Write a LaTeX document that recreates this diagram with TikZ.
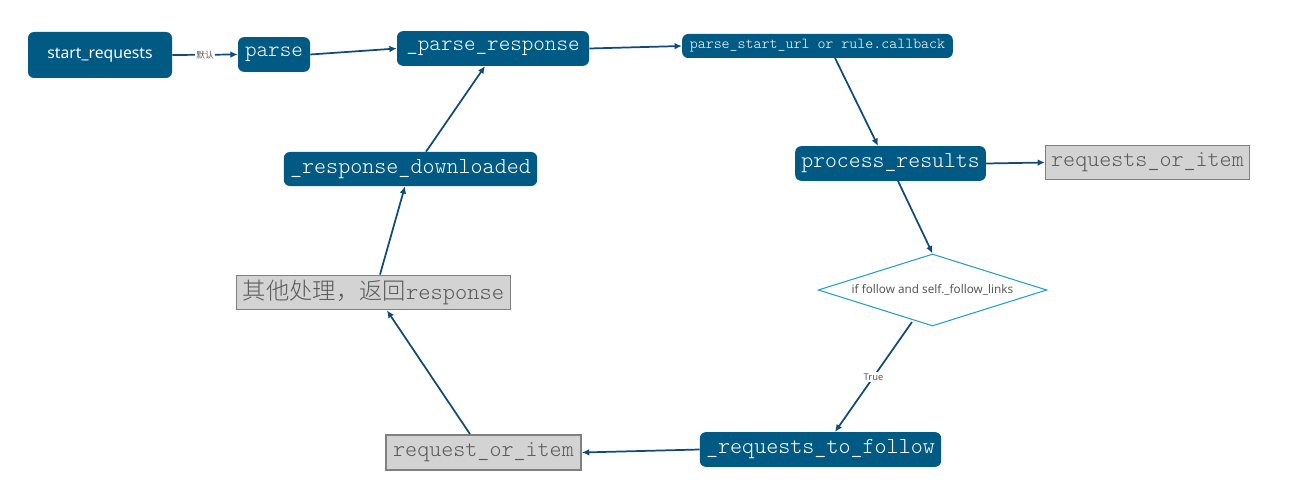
\documentclass[tikz,border=0pt]{standalone}
\usepackage{fontspec}
\setsansfont{Noto Sans}
\setmonofont{Latin Modern Mono Light}
\newfontfamily\cjk{Noto Sans CJK SC}
\newfontfamily\cjklight{Noto Sans CJK SC Light}
\usetikzlibrary{arrows.meta,shapes.geometric}
\definecolor{boxblue}{RGB}{0,90,132}
\definecolor{linkblue}{RGB}{16,74,122}
\definecolor{grayfill}{RGB}{211,211,211}
\definecolor{grayline}{RGB}{128,128,128}
\definecolor{diacol}{RGB}{40,160,200}
\definecolor{labgray}{RGB}{90,90,90}
\tikzset{
  bluebox/.style={fill=boxblue,rounded corners=4.5pt,text=white,inner sep=0pt,font=\ttfamily},
  graybox/.style={fill=grayfill,draw=grayline,line width=0.9pt,text=labgray,inner sep=0pt,font=\ttfamily},
  conn/.style={draw=linkblue,line width=1.3pt,-{Latex[length=5.5pt,width=5pt]}},
  elabel/.style={fill=white,text=labgray,font=\sffamily\fontsize{7}{8}\selectfont,inner sep=1pt}
}
\begin{document}
\begin{tikzpicture}[x=0.75pt,y=-0.75pt]
\fill[white] (0,0) rectangle (1297,503);
\useasboundingbox (0,0) rectangle (1297,503);

\node[bluebox,minimum width=108pt,minimum height=34.5pt,font=\sffamily\fontsize{11.8}{14}\selectfont] (start) at (100,55) {start\_requests};
\node[bluebox,minimum width=54pt,minimum height=26pt,font=\ttfamily\fontsize{16.5}{18}\selectfont] (parse) at (274,54.5) {parse};
\node[bluebox,minimum width=144pt,minimum height=26pt,font=\ttfamily\fontsize{16.5}{18}\selectfont] (presp) at (493,48.5) {\_parse\_response};
\node[bluebox,minimum width=203pt,minimum height=18pt,font=\ttfamily\fontsize{11.4}{13}\selectfont] (psu) at (817.5,46) {parse\_start\_url or rule.callback};
\node[bluebox,minimum width=143pt,minimum height=26pt,font=\ttfamily\fontsize{17}{19}\selectfont] (proc) at (890.5,163.5) {process\_results};
\node[graybox,minimum width=153pt,minimum height=26pt,font=\ttfamily\fontsize{17.2}{19}\selectfont] (roi) at (1147.5,162.5) {requests\_or\_item};
\node[draw=diacol,line width=0.8pt,diamond,aspect=3.2,inner sep=0pt,minimum width=171.5pt,minimum height=54pt,text=labgray,font=\sffamily\fontsize{8.8}{10}\selectfont] (dia) at (932.5,290) {if follow and self.\_follow\_links};
\node[bluebox,minimum width=181pt,minimum height=26pt,font=\ttfamily\fontsize{17.2}{19}\selectfont] (rtf) at (820.5,449.5) {\_requests\_to\_follow};
\node[graybox,line width=1.6pt,minimum width=146pt,minimum height=26pt,font=\ttfamily\fontsize{17.2}{19}\selectfont] (req) at (483.5,452.5) {request\_or\_item};
\node[graybox,minimum width=205pt,minimum height=26pt,font=\ttfamily\fontsize{17.5}{19}\selectfont] (other) at (373.5,292.5) {{\cjklight 其他处理，返回}response};
\node[bluebox,minimum width=190pt,minimum height=25.5pt,font=\ttfamily\fontsize{17.2}{19}\selectfont] (rdl) at (410.5,169) {\_response\_downloaded};

\draw[conn] (start.east) -- node[elabel,font=\cjk\fontsize{6.5}{7}\selectfont] {默认} (parse.west);
\draw[conn] (parse.east) -- (presp.west);
\draw[conn] (presp.east) -- (psu.west);
\draw[conn] (835,58) -- (proc.north -| 878,0);
\draw[conn] (proc.east) -- (roi.west);
\draw[conn] (898,181) -- (dia.north);
\draw[conn] (912,322) -- node[elabel,pos=0.5] {True} (rtf.north -| 835,0);
\draw[conn] (rtf.west) -- (req.east);
\draw[conn] (req.north -| 470,0) -- (other.south -| 387,0);
\draw[conn] (other.north -| 380,0) -- (rdl.south -| 405,0);
\draw[conn] (rdl.north -| 426,0) -- (presp.south -| 485,0);
\end{tikzpicture}
\end{document}
